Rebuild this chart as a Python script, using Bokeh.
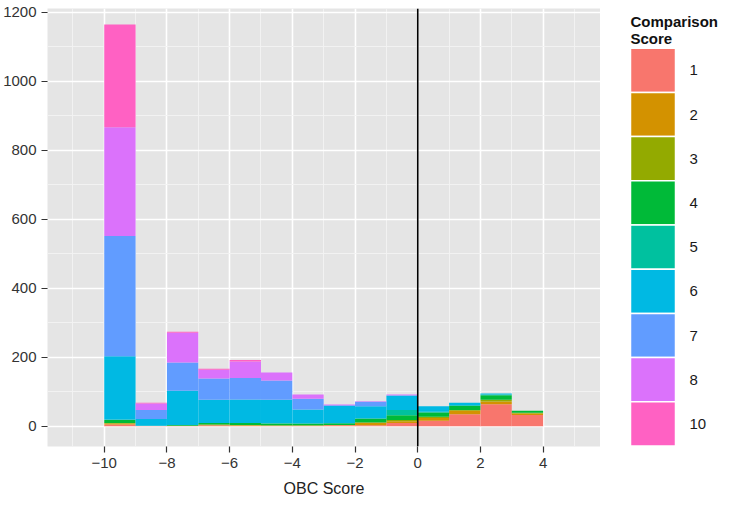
from bokeh.plotting import figure
from bokeh.models import ColumnDataSource, Range1d, FixedTicker, Span
from bokeh.layouts import row
from bokeh.embed import file_html
from bokeh.resources import INLINE
from bokeh.core.properties import value

# ---- data ----
bin_left = [-10, -9, -8, -7, -6, -5, -4, -3, -2, -1, 0, 1, 2, 3]
categories = ["1", "2", "3", "4", "5", "6", "7", "8", "10"]
score_1 = [5, 1, 2, 3, 2, 2, 2, 3, 3, 10, 16, 35, 64, 33]
score_2 = [3, 0, 0, 0, 1, 0, 0, 1, 8, 5, 8, 10, 8, 4]
score_3 = [2, 0, 0, 2, 1, 1, 1, 0, 0, 3, 4, 2, 5, 2]
score_4 = [8, 1, 2, 5, 6, 5, 5, 5, 12, 14, 12, 12, 13, 6]
score_5 = [2, 0, 0, 0, 0, 1, 0, 0, 0, 15, 2, 2, 2, 0]
score_6 = [183, 19, 99, 67, 68, 68, 41, 50, 35, 42, 16, 7, 3, 0]
score_7 = [349, 26, 82, 62, 62, 56, 31, 2, 13, 1, 0, 0, 0, 0]
score_8 = [315, 19, 86, 25, 48, 23, 12, 2, 2, 2, 0, 0, 0, 0]
score_10 = [298, 2, 3, 3, 4, 0, 0, 0, 0, 0, 0, 0, 0, 0]
x_ticks = [-10, -8, -6, -4, -2, 0, 2, 4]
y_ticks = [0, 200, 400, 600, 800, 1000, 1200]

series = [score_1, score_2, score_3, score_4, score_5, score_6, score_7, score_8, score_10]
colors = ["#F8766D", "#D39200", "#93AA00", "#00BA38", "#00C19F",
          "#00B9E3", "#619CFF", "#DB72FB", "#FF61C3"]

FONT = "Liberation Sans"
TOP = 8       # frame top (px in figure)
BOTTOM = 449  # frame bottom (px in figure)
H = 499

data = {"x": [b + 0.5 for b in bin_left]}
stackers = []
for c, vals in zip(categories, series):
    data["s" + c] = vals
    stackers.append("s" + c)
src = ColumnDataSource(data)

p = figure(width=600, height=H,
           x_range=Range1d(-11.81, 5.83), y_range=Range1d(-58.5, 1211.5),
           output_backend="svg", toolbar_location=None,
           min_border_left=46, min_border_right=0, min_border_top=TOP,
           min_border_bottom=H - BOTTOM)
p.background_fill_color = "#E5E5E5"
p.border_fill_color = "white"
p.outline_line_color = None

p.vbar_stack(stackers, x="x", width=1, fill_color=colors, line_color=None, source=src)

p.add_layout(Span(location=0, dimension="height", line_color="black", line_width=1.6))

p.xaxis.ticker = FixedTicker(ticks=x_ticks, minor_ticks=[t + 1 for t in x_ticks] + [-11])
p.yaxis.ticker = FixedTicker(ticks=y_ticks, minor_ticks=[t + 100 for t in y_ticks[:-1]])
p.xaxis.major_label_overrides = {t: (("\u2212" + str(-t)) if t < 0 else str(t)) for t in x_ticks}

for ax in (p.xaxis, p.yaxis):
    ax.axis_line_color = None
    ax.major_tick_line_color = "#333333"
    ax.major_tick_line_width = 1.2
    ax.major_tick_out = 6
    ax.major_tick_in = 0
    ax.minor_tick_out = 0
    ax.minor_tick_in = 0
    ax.major_label_text_font = FONT
    ax.major_label_text_font_size = "15px"
    ax.major_label_text_color = "#333333"
    ax.major_label_standoff = 5

p.xaxis.axis_label = "OBC Score"
p.xaxis.axis_label_text_font = FONT
p.xaxis.axis_label_text_font_size = "16px"
p.xaxis.axis_label_text_font_style = "normal"
p.xaxis.axis_label_text_color = "#222222"
p.xaxis.axis_label_standoff = 9

for g in (p.xgrid, p.ygrid):
    g.grid_line_color = "white"
    g.grid_line_width = 1.6
    g.minor_grid_line_color = "#F3F3F3"
    g.minor_grid_line_width = 0.9

# ---- legend panel (y data units == figure pixels; frame aligned with main plot) ----
lg = figure(width=128, height=H, x_range=Range1d(0, 128), y_range=Range1d(BOTTOM, TOP),
            output_backend="svg", toolbar_location=None,
            x_axis_type=None, y_axis_type=None,
            min_border_left=0, min_border_right=0,
            min_border_top=TOP, min_border_bottom=H - BOTTOM)
lg.outline_line_color = None
lg.background_fill_color = "white"
lg.grid.visible = False

key_top = 48
key_h = 44.5
tops = [key_top + key_h * i for i in range(len(categories))]
bottoms = [t + key_h for t in tops]
centers = [t + key_h / 2 for t in tops]
lg.quad(left=30, right=75, top=tops, bottom=bottoms, fill_color=colors,
        line_color="white", line_width=1.5)
lg.text(x=[89] * len(categories), y=centers, text=categories,
        text_font=value(FONT), text_font_size="15px", text_baseline="middle",
        text_color="#1a1a1a")
lg.text(x=[30, 30], y=[21, 38], text=["Comparison", "Score"],
        text_font=value(FONT), text_font_size="15px", text_font_style="bold",
        text_baseline="alphabetic", text_color="#111111")

layout = row(p, lg)
open("out.html", "w").write(file_html(layout, INLINE))
